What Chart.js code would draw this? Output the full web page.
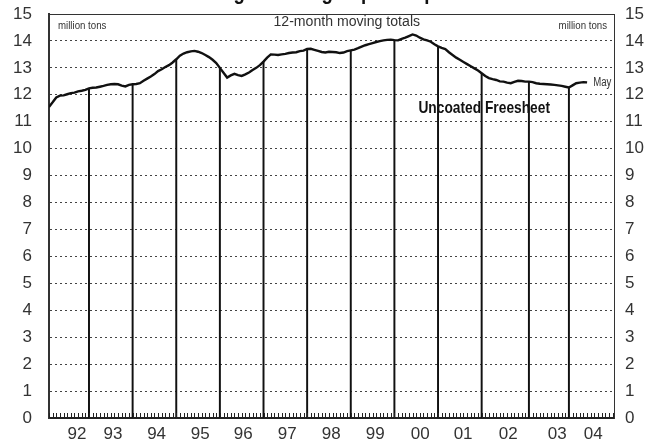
<!DOCTYPE html>
<html>
<head>
<meta charset="utf-8">
<script src="https://cdn.jsdelivr.net/npm/chart.js@4.4.1/dist/chart.umd.min.js"></script>
<style>
  html, body { margin: 0; padding: 0; background: #fff; }
</style>
</head>
<body>
<canvas id="shipChart" width="659" height="445"></canvas>
<script>
// monthly 12-month moving totals, Jan 1992 .. May 2004 (million tons)
var shipments = [
    11.55, 11.72, 11.90, 11.97, 11.98, 12.02, 12.06, 12.08, 12.13, 12.15, 12.18, 12.24, // 1992
    12.26, 12.27, 12.30, 12.33, 12.37, 12.39, 12.40, 12.39, 12.34, 12.31, 12.37, 12.39, // 1993
    12.40, 12.43, 12.52, 12.60, 12.68, 12.77, 12.88, 12.95, 13.03, 13.10, 13.20, 13.32, // 1994
    13.45, 13.53, 13.58, 13.61, 13.63, 13.60, 13.55, 13.48, 13.40, 13.30, 13.18, 13.00, // 1995
    12.82, 12.64, 12.72, 12.78, 12.73, 12.70, 12.76, 12.83, 12.92, 13.00, 13.10, 13.23, // 1996
    13.38, 13.50, 13.49, 13.48, 13.50, 13.52, 13.55, 13.57, 13.58, 13.62, 13.64, 13.70, // 1997
    13.71, 13.67, 13.63, 13.59, 13.57, 13.60, 13.59, 13.58, 13.55, 13.57, 13.62, 13.65, // 1998
    13.68, 13.73, 13.79, 13.84, 13.88, 13.92, 13.96, 13.99, 14.02, 14.04, 14.05, 14.03, // 1999
    14.02, 14.08, 14.12, 14.18, 14.24, 14.20, 14.12, 14.06, 14.02, 13.97, 13.88, 13.80, // 2000
    13.74, 13.70, 13.58, 13.48, 13.38, 13.30, 13.22, 13.14, 13.06, 12.98, 12.90, 12.80, // 2001
    12.70, 12.62, 12.58, 12.55, 12.50, 12.49, 12.45, 12.43, 12.48, 12.52, 12.51, 12.49, // 2002
    12.49, 12.47, 12.43, 12.41, 12.40, 12.39, 12.38, 12.37, 12.35, 12.33, 12.30, 12.27, // 2003
    12.35, 12.43, 12.45, 12.47, 12.46                                                   // 2004
];

// months (index from Jan 1992) where the year divider lines stand
var dividerMonths = [11, 23, 35, 47, 59, 71, 83, 95, 107, 119, 132, 143];

var yearLabels = ['92', '93', '94', '95', '96', '97', '98', '99', '00', '01', '02', '03', '04'];
var yearLabelMonths = [7.7, 17.6, 29.6, 41.6, 53.4, 65.5, 77.6, 89.7, 102.1, 113.9, 126.3, 139.8, 149.7];

var yMin = 0, yMax = 15;
var monthMax = 155.4;

var plainFont = 'Liberation Sans, Arial, sans-serif';

// text squeezed sideways, the reference uses a condensed face
function narrowText(ctx, text, x, y, sx) {
    ctx.save();
    ctx.translate(x, y);
    ctx.scale(sx, 1);
    ctx.fillText(text, 0, 0);
    ctx.restore();
}

// small monthly ticks standing up from the bottom axis
var monthTicks = {
    id: 'monthTicks',
    afterDatasetsDraw: function (chart) {
        var xs = chart.scales.x, ctx = chart.ctx, bottom = chart.chartArea.bottom;
        ctx.save();
        ctx.strokeStyle = '#222';
        ctx.lineWidth = 1;
        ctx.beginPath();
        for (var m = 0; m <= Math.floor(monthMax); m++) {
            var px = Math.round(xs.getPixelForValue(m)) + 0.5;
            ctx.moveTo(px, bottom);
            ctx.lineTo(px, bottom - 5);
        }
        ctx.stroke();
        ctx.restore();
    }
};

var notes = {
    id: 'notes',
    beforeDatasetsDraw: function (chart) {
        var ctx = chart.ctx, a = chart.chartArea;
        var xs = chart.scales.x, ys = chart.scales.y;
        ctx.save();
        ctx.textBaseline = 'middle';
        ctx.fillStyle = '#333';
        ctx.font = '11px ' + plainFont;
        ctx.textAlign = 'left';
        narrowText(ctx, 'million tons', a.left + 9, a.top + 12, 0.88);
        ctx.textAlign = 'right';
        narrowText(ctx, 'million tons', a.right - 7, a.top + 12, 0.88);
        ctx.font = '12px ' + plainFont;
        ctx.textAlign = 'left';
        narrowText(ctx, 'May', xs.getPixelForValue(149.7), ys.getPixelForValue(12.45), 0.8);
        ctx.font = '15.5px ' + plainFont;
        ctx.textAlign = 'center';
        narrowText(ctx, '12-month moving totals', xs.getPixelForValue(81.9), a.top + 8, 0.91);
        ctx.fillStyle = '#111';
        ctx.font = 'bold 17px ' + plainFont;
        narrowText(ctx, 'Uncoated Freesheet', xs.getPixelForValue(119.7), ys.getPixelForValue(11.5), 0.81);
        // title sits above the picture, only its descenders show
        ctx.font = 'bold 22px ' + plainFont;
        ctx.textBaseline = 'alphabetic';
        narrowText(ctx, 'Printing & Writing Paper Shipments', xs.getPixelForValue(78), -1, 0.85);
        ctx.restore();
    }
};

var ctx = document.getElementById('shipChart').getContext('2d');

new Chart(ctx, {
    type: 'line',
    data: {
        datasets: [{
            type: 'line',
            data: shipments.map(function (v, i) { return { x: i, y: v }; }),
            borderColor: '#111',
            borderWidth: 2.4,
            pointRadius: 0,
            tension: 0,
            order: 0
        }, {
            type: 'bar',
            data: dividerMonths.map(function (m) { return { x: m, y: shipments[m] }; }),
            backgroundColor: '#111',
            barThickness: 1.3,
            order: 1
        }]
    },
    options: {
        responsive: false,
        animation: false,
        layout: { padding: { top: 14 } },
        plugins: {
            legend: { display: false },
            tooltip: { enabled: false }
        },
        scales: {
            x: {
                type: 'linear',
                position: 'bottom',
                offset: false,
                min: 0,
                max: monthMax,
                grid: { display: false, drawTicks: false, offset: false },
                border: { display: true, color: '#222', width: 2 },
                afterBuildTicks: function (s) {
                    s.ticks = yearLabelMonths.map(function (v) { return { value: v }; });
                },
                ticks: {
                    padding: 6,
                    color: '#333',
                    font: { size: 17, family: plainFont },
                    callback: function (value, index) { return yearLabels[index]; }
                },
                afterFit: function (s) { s.height = 27; }
            },
            xTop: {
                type: 'linear',
                position: 'top',
                offset: false,
                min: 0,
                max: monthMax,
                grid: { display: false, drawTicks: false },
                border: { display: true, color: '#333', width: 1 },
                ticks: { display: false },
                afterFit: function (s) { s.height = 0; }
            },
            y: {
                position: 'left',
                min: yMin,
                max: yMax,
                ticks: { stepSize: 1, padding: 0, color: '#333', font: { size: 17, family: plainFont } },
                grid: {
                    drawTicks: true,
                    tickLength: 17,
                    tickColor: 'rgba(0,0,0,0)',
                    lineWidth: 1,
                    color: function (c) {
                        return (c.tick.value > yMin && c.tick.value < yMax) ? '#444' : 'rgba(0,0,0,0)';
                    }
                },
                border: { display: true, color: '#333', width: 2, dash: [2, 3] },
                afterFit: function (s) { s.width = 49; }
            },
            y2: {
                position: 'right',
                min: yMin,
                max: yMax,
                ticks: { stepSize: 1, padding: 0, color: '#333', font: { size: 17, family: plainFont } },
                grid: { display: true, drawOnChartArea: false, drawTicks: true, tickLength: 11, tickColor: 'rgba(0,0,0,0)' },
                border: { display: true, color: '#333', width: 1 },
                afterFit: function (s) { s.width = 45; }
            }
        }
    },
    plugins: [monthTicks, notes]
});
</script>
</body>
</html>
